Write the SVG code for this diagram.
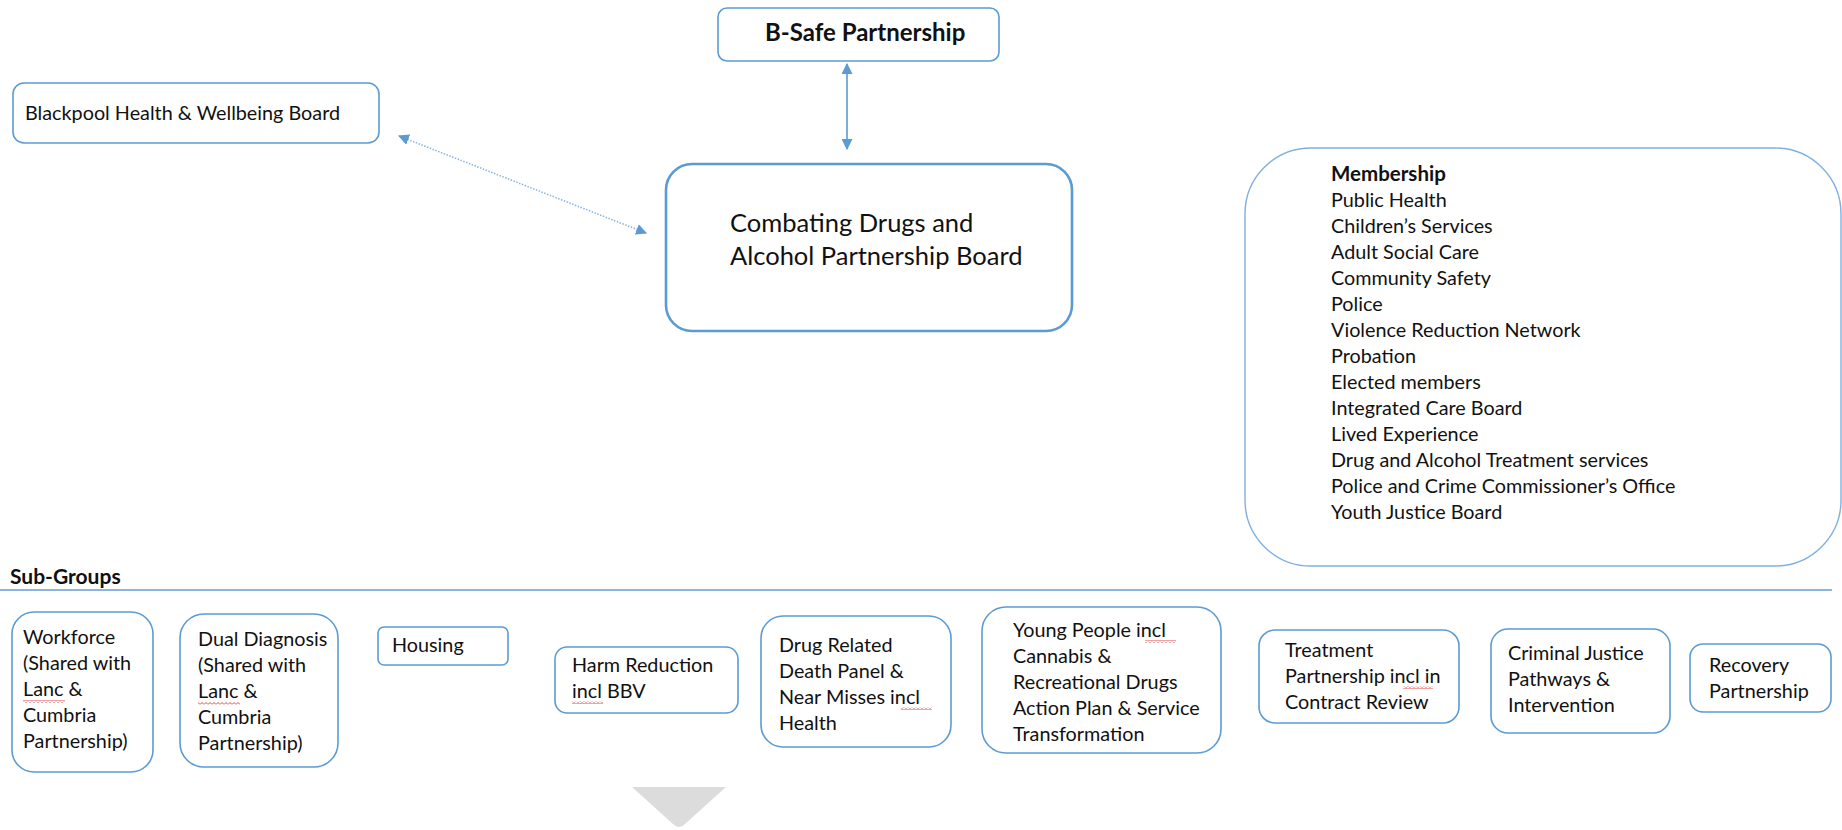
<svg xmlns="http://www.w3.org/2000/svg" width="1842" height="830" viewBox="0 0 1842 830">
<style>
  .box { fill: #ffffff; stroke: #5b9bd5; stroke-width: 1.6; }
  .main { fill: #ffffff; stroke: #5b9bd5; stroke-width: 2.6; }
  .mem { fill: #ffffff; stroke: #7fb0df; stroke-width: 1.4; }
  .t { font-family: Lato, "Open Sans", "Liberation Sans", sans-serif; font-size: 19.8px; fill: #111111; }
  .big { font-size: 25.5px; }
  .b { font-weight: bold; }
  .conn { stroke: #5b9bd5; stroke-width: 1.6; fill: none; }
  .dot { stroke: #8ab6e2; stroke-width: 1.6; stroke-dasharray: 1.5 1.5; fill: none; }
  .sq { fill: url(#squig); }
</style>
<defs>
  <marker id="ah" viewBox="0 0 10 10" refX="9" refY="5" markerWidth="11" markerHeight="11" markerUnits="userSpaceOnUse" orient="auto-start-reverse">
    <path d="M0 0 L10 5 L0 10 Z" fill="#5b9bd5"/>
  </marker>
  <pattern id="squig" patternUnits="userSpaceOnUse" width="4" height="3">
    <path d="M0 2.5 L2 0.5 L4 2.5" stroke="#e03030" stroke-width="0.9" fill="none"/>
  </pattern>
</defs>

<g id="connectors">
  <line class="conn" x1="847" y1="64" x2="847" y2="149" marker-start="url(#ah)" marker-end="url(#ah)"/>
  <line class="dot" x1="399" y1="136" x2="646" y2="233" marker-start="url(#ah)" marker-end="url(#ah)"/>
</g>

<g id="bsafe">
  <rect class="box" x="718" y="8" width="281" height="53" rx="9"/>
  <text class="t b" x="765" y="41" style="font-size:24px">B-Safe Partnership</text>
</g>

<g id="blackpool">
  <rect class="box" x="13" y="83" width="366" height="60" rx="11"/>
  <text class="t" x="25" y="120">Blackpool Health &amp; Wellbeing Board</text>
</g>

<g id="combating">
  <rect class="main" x="666" y="164" width="406" height="167" rx="26"/>
  <text class="t big" x="730" y="232">Combating Drugs and</text>
  <text class="t big" x="730" y="265">Alcohol Partnership Board</text>
</g>

<g id="membership">
  <rect class="mem" x="1245" y="148" width="596" height="418" rx="66"/>
  <text class="t b" x="1331" y="181" style="font-size:20.5px">Membership</text>
  <text class="t" x="1331" y="207">Public Health</text>
  <text class="t" x="1331" y="233">Children’s Services</text>
  <text class="t" x="1331" y="259">Adult Social Care</text>
  <text class="t" x="1331" y="285">Community Safety</text>
  <text class="t" x="1331" y="311">Police</text>
  <text class="t" x="1331" y="337">Violence Reduction Network</text>
  <text class="t" x="1331" y="363">Probation</text>
  <text class="t" x="1331" y="389">Elected members</text>
  <text class="t" x="1331" y="415">Integrated Care Board</text>
  <text class="t" x="1331" y="441">Lived Experience</text>
  <text class="t" x="1331" y="467">Drug and Alcohol Treatment services</text>
  <text class="t" x="1331" y="493">Police and Crime Commissioner’s Office</text>
  <text class="t" x="1331" y="519">Youth Justice Board</text>
</g>

<g id="subgroups-header">
  <text class="t b" x="10" y="584" style="font-size:21px">Sub-Groups</text>
  <line x1="0" y1="590" x2="1832" y2="590" stroke="#8db3e2" stroke-width="2"/>
</g>

<g id="workforce">
  <rect class="box" x="12" y="612" width="141" height="160" rx="22"/>
  <text class="t" x="23" y="644">Workforce</text>
  <text class="t" x="23" y="670">(Shared with</text>
  <text class="t" x="23" y="696">Lanc &amp;</text>
  <text class="t" x="23" y="722">Cumbria</text>
  <text class="t" x="23" y="748">Partnership)</text>
  <rect class="sq" x="23" y="700" width="42" height="3"/>
</g>

<g id="dual-diagnosis">
  <rect class="box" x="180" y="614" width="158" height="153" rx="24"/>
  <text class="t" x="198" y="646">Dual Diagnosis</text>
  <text class="t" x="198" y="672">(Shared with</text>
  <text class="t" x="198" y="698">Lanc &amp;</text>
  <text class="t" x="198" y="724">Cumbria</text>
  <text class="t" x="198" y="750">Partnership)</text>
  <rect class="sq" x="198" y="702" width="42" height="3"/>
</g>

<g id="housing">
  <rect class="box" x="378" y="627" width="130" height="38" rx="6"/>
  <text class="t" x="392" y="652">Housing</text>
</g>

<g id="harm-reduction">
  <rect class="box" x="555" y="647" width="183" height="66" rx="12"/>
  <text class="t" x="572" y="672">Harm Reduction</text>
  <text class="t" x="572" y="698">incl BBV</text>
  <rect class="sq" x="572" y="701" width="31" height="3"/>
</g>

<g id="drug-related">
  <rect class="box" x="761" y="616" width="190" height="131" rx="22"/>
  <text class="t" x="779" y="652">Drug Related</text>
  <text class="t" x="779" y="678">Death Panel &amp;</text>
  <text class="t" x="779" y="704">Near Misses incl</text>
  <text class="t" x="779" y="730">Health</text>
  <rect class="sq" x="901" y="707" width="31" height="3"/>
</g>

<g id="young-people">
  <rect class="box" x="982" y="607" width="239" height="146" rx="24"/>
  <text class="t" x="1013" y="637">Young People incl</text>
  <text class="t" x="1013" y="663">Cannabis &amp;</text>
  <text class="t" x="1013" y="689">Recreational Drugs</text>
  <text class="t" x="1013" y="715">Action Plan &amp; Service</text>
  <text class="t" x="1013" y="741">Transformation</text>
  <rect class="sq" x="1145" y="640" width="31" height="3"/>
</g>

<g id="treatment">
  <rect class="box" x="1259" y="630" width="200" height="93" rx="16"/>
  <text class="t" x="1285" y="657">Treatment</text>
  <text class="t" x="1285" y="683">Partnership incl in</text>
  <text class="t" x="1285" y="709">Contract Review</text>
  <rect class="sq" x="1403" y="686" width="30" height="3"/>
</g>

<g id="criminal-justice">
  <rect class="box" x="1491" y="629" width="179" height="104" rx="17"/>
  <text class="t" x="1508" y="660">Criminal Justice</text>
  <text class="t" x="1508" y="686">Pathways &amp;</text>
  <text class="t" x="1508" y="712">Intervention</text>
</g>

<g id="recovery">
  <rect class="box" x="1690" y="644" width="141" height="68" rx="13"/>
  <text class="t" x="1709" y="672">Recovery</text>
  <text class="t" x="1709" y="698">Partnership</text>
</g>

<g id="triangle">
  <path d="M632 787 L726 787 L685 824 Q679 830 673 824 Z" fill="#dcdcdc"/>
</g>
</svg>
